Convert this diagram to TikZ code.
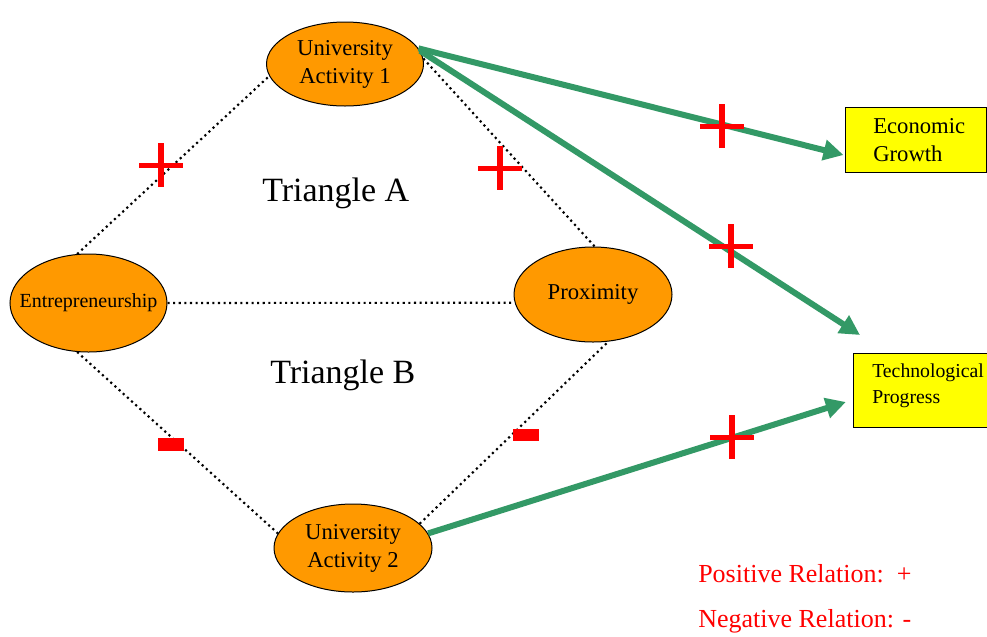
\documentclass[tikz,border=0pt]{standalone}
\usepackage{fontspec}
\setmainfont{Liberation Serif}
\usetikzlibrary{arrows.meta,calc,shapes.geometric}
\definecolor{nodeorange}{RGB}{255,153,0}
\definecolor{boxyellow}{RGB}{255,255,0}
\definecolor{linkgreen}{RGB}{51,153,102}
\definecolor{signred}{RGB}{255,0,0}
\tikzset{
  plusmark/.pic={
    \fill[signred] (-22,-2.5) rectangle (22,2.5);
    \fill[signred] (-3,-22) rectangle (3,22);
  }
}
\begin{document}
\begin{tikzpicture}[x=0.75pt,y=-0.75pt,
  actor/.style={ellipse, draw=black, line width=0.75pt, fill=nodeorange,
                inner sep=0pt, align=center},
  outcome/.style={rectangle, draw=black, line width=0.75pt, fill=boxyellow, inner sep=0pt},
  boxtext/.style={anchor=west, align=left, inner sep=0pt},
  tie/.style={line width=1.6pt, dash pattern=on 1.6pt off 2.6pt},
  effect/.style={line width=4.5pt, draw=linkgreen, -{Triangle[length=15pt,width=15pt]}},
  minusmark/.style={fill=signred},
  caption/.style={anchor=base west, inner sep=0pt, font=\fontsize{25.5}{30}\selectfont},
  legend/.style={anchor=base west, inner sep=0pt, text=signred, font=\fontsize{19.5}{24}\selectfont}
]
\fill[white] (0,0) rectangle (987,636);
\clip (0,0) rectangle (987,636);

% actors
\node[actor, minimum width=117.75pt, minimum height=63pt,
      font=\fontsize{17}{21}\selectfont] (ua1) at (345,64) {University\\Activity 1};
\node[actor, minimum width=117.75pt, minimum height=73.5pt, inner xsep=-14pt,
      font=\fontsize{15}{18}\selectfont] (entre) at (88.5,303) {Entrepreneurship};
\node[actor, minimum width=118.5pt, minimum height=71.25pt,
      font=\fontsize{17}{21}\selectfont] (prox) at (593,294.5) {Proximity};
\node[actor, minimum width=118.5pt, minimum height=66pt,
      font=\fontsize{17}{21}\selectfont] (ua2) at (353,548) {University\\Activity 2};

% outcomes
\node[outcome, minimum width=105.75pt, minimum height=48.75pt] (econ) at (915.5,139.5) {};
\node[boxtext, font=\fontsize{17}{21}\selectfont] (econtxt) at (873,140) {Economic\\Growth};
\node[outcome, minimum width=115pt, minimum height=55.5pt] (tech) at (930,390) {};
\node[boxtext, font=\fontsize{14.8}{19.5}\selectfont] (techtxt) at (872,386) {Technological\\Progress};

% dotted relations
\draw[tie] (entre.103) -- (ua1.189);
\draw[tie] (ua1.4) -- (prox.88);
\draw[tie] (entre.0) -- (prox.186);
\draw[tie] (entre.257) -- (ua2.169);
\draw[tie] (ua2.20) -- (prox.288);

% effects on outcomes
\coordinate (techtip) at (860,335);
\draw[effect] (ua1.12) -- ($(econ.west)+(-1,15.5)$);
\draw[effect] (ua1.10) -- (techtip);
\draw[effect] (ua2.11) -- ($(tech.west)+(-7,12)$);

% signs
\pic at (161,165) {plusmark};
\pic at (500,168) {plusmark};
\pic at (722,126) {plusmark};
\pic at (731,246) {plusmark};
\pic at (732,437) {plusmark};
\fill[minusmark] (158,438) rectangle (184,451);
\fill[minusmark] (513,429) rectangle (539,441);

% captions
\node[caption] (triA) at (262,201) {Triangle A};
\node[caption] (triB) at (270,383) {Triangle B};

% legend
\node[legend] (legpos) at (698,582) {Positive Relation:\ \ +};
\node[legend] (legneg) at (698,627) {Negative Relation: -};
\end{tikzpicture}
\end{document}
